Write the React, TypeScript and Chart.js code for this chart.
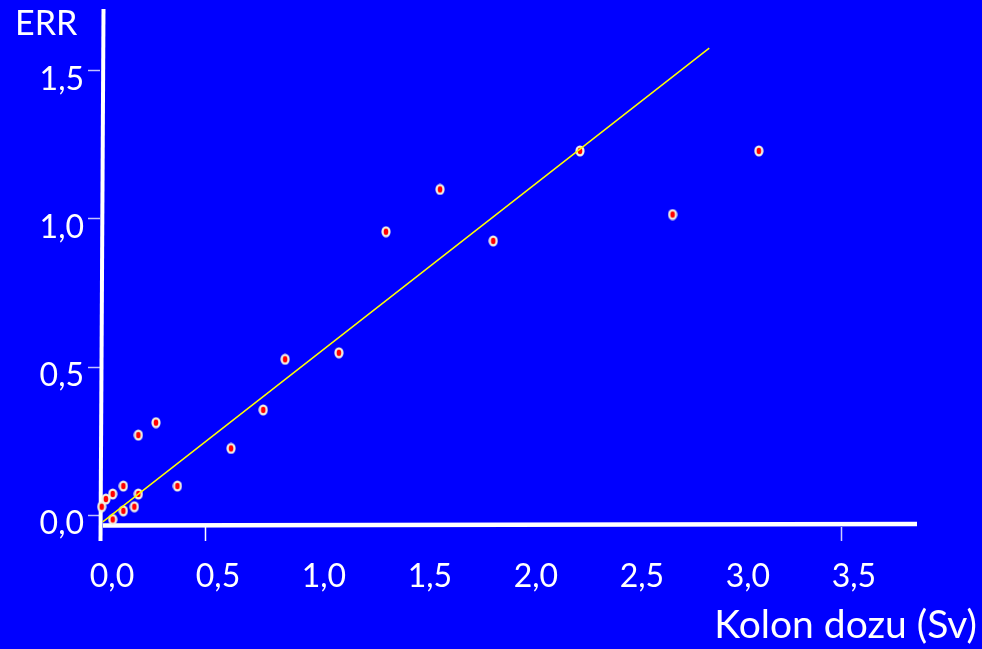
import { useEffect, useRef } from 'react';
import { Chart, registerables } from 'chart.js';

Chart.register(...registerables);

const doseValues = [0.008, 0.028, 0.06, 0.06, 0.11, 0.11, 0.162, 0.181, 0.181, 0.264, 0.365, 0.618, 0.77, 0.873, 1.127, 1.349, 1.604, 1.855, 2.264, 2.701, 3.108];
const errValues = [0.028, 0.054, 0.071, -0.015, 0.098, 0.014, 0.028, 0.071, 0.27, 0.312, 0.098, 0.225, 0.355, 0.526, 0.548, 0.957, 1.1, 0.926, 1.23, 1.015, 1.23];
const fitDose = [0.013, 2.874];
const fitErr = [-0.023, 1.577];
const xTickValues = [0, 0.5, 1, 1.5, 2, 2.5, 3, 3.5];
const xTickLabels = ['0,0', '0,5', '1,0', '1,5', '2,0', '2,5', '3,0', '3,5'];
const yTickValues = [0, 0.5, 1, 1.5];
const yTickLabels = ['0,0', '0,5', '1,0', '1,5'];
const xTickMarkColors = ['#000000', '#ffffff', 'rgba(0,0,0,0)', 'rgba(0,0,0,0)', 'rgba(0,0,0,0)', 'rgba(0,0,0,0)', 'rgba(0,0,0,0)', 'rgba(205,205,255,1)'];

const FONT = 'Lato, "Open Sans", sans-serif';

function makePointImage(): HTMLCanvasElement {
  const c = document.createElement('canvas');
  c.width = 10;
  c.height = 12;
  const g = c.getContext('2d')!;
  g.fillStyle = '#F2F2E4';
  g.beginPath();
  g.ellipse(5, 6, 4.6, 5.6, 0, 0, Math.PI * 2);
  g.fill();
  g.fillStyle = '#FF0000';
  g.beginPath();
  g.ellipse(5, 6, 2.3, 3.2, 0, 0, Math.PI * 2);
  g.fill();
  return c;
}

const axisLinesPlugin = {
  id: 'axisLines',
  beforeDatasetsDraw(chart: any) {
    const { ctx, chartArea } = chart;
    const { left, right, top, bottom } = chartArea;
    ctx.save();
    ctx.strokeStyle = '#ffffff';
    ctx.lineCap = 'butt';
    ctx.lineWidth = 4;
    ctx.beginPath();
    ctx.moveTo(left + 3.5, top - 1);
    ctx.lineTo(left + 0.5, bottom + 14);
    ctx.stroke();
    ctx.lineWidth = 4.5;
    ctx.beginPath();
    ctx.moveTo(left + 3, bottom - 1.5);
    ctx.lineTo(right, bottom - 3);
    ctx.stroke();
    ctx.restore();
  },
  afterDraw(chart: any) {
    const { ctx } = chart;
    ctx.save();
    ctx.fillStyle = '#ffffff';
    ctx.textBaseline = 'alphabetic';
    ctx.font = `34px ${FONT}`;
    ctx.textAlign = 'left';
    ctx.fillText('ERR', 15, 35);
    ctx.font = `39px ${FONT}`;
    ctx.textAlign = 'right';
    ctx.fillText('Kolon dozu (Sv)', 977, 638);
    ctx.restore();
  },
};

export default function App() {
  const ref = useRef<HTMLCanvasElement>(null);

  useEffect(() => {
    if (!ref.current) return;
    const pointImg = makePointImage();
    const chart = new Chart(ref.current, {
      type: 'scatter',
      data: {
        datasets: [
          {
            type: 'line',
            label: 'fit',
            data: fitDose.map((x, i) => ({ x, y: fitErr[i] })),
            borderColor: '#FFFF00',
            borderWidth: 1.5,
            pointRadius: 0,
            fill: false,
            order: 0,
            clip: false as any,
          },
          {
            type: 'scatter',
            label: 'ERR',
            data: doseValues.map((x, i) => ({ x, y: errValues[i] })),
            pointStyle: pointImg as any,
            pointRadius: 5,
            order: 1,
            clip: false as any,
          },
        ],
      },
      options: {
        animation: false,
        responsive: false,
        events: [],
        layout: { padding: { top: 10, right: 65, left: 0, bottom: 0 } },
        plugins: {
          legend: { display: false },
          tooltip: { enabled: false },
        },
        scales: {
          x: {
            type: 'linear',
            min: 0,
            max: 3.854,
            afterBuildTicks: (s: any) => {
              s.ticks = xTickValues.map((v) => ({ value: v }));
            },
            afterFit: (s: any) => {
              s.height = 122;
              s.paddingLeft = 0;
              s.paddingRight = 0;
            },
            ticks: {
              callback: (_v: any, i: number) => xTickLabels[i],
              color: '#ffffff',
              font: { family: FONT, size: 32 },
              labelOffset: 12,
              padding: 16,
              maxRotation: 0,
              autoSkip: false,
            },
            grid: {
              drawOnChartArea: false,
              drawTicks: true,
              tickLength: 14,
              tickWidth: 1.5,
              tickColor: (c: any) => xTickMarkColors[c.index] ?? 'rgba(0,0,0,0)',
            },
            border: { display: false },
          },
          y: {
            type: 'linear',
            min: -0.0405,
            max: 1.706,
            afterBuildTicks: (s: any) => {
              s.ticks = yTickValues.map((v) => ({ value: v }));
            },
            afterFit: (s: any) => {
              s.width = 100;
              s.paddingTop = 0;
              s.paddingBottom = 0;
            },
            ticks: {
              callback: (_v: any, i: number) => yTickLabels[i],
              color: '#ffffff',
              font: { family: FONT, size: 32 },
              labelOffset: 9,
              padding: 4,
              autoSkip: false,
            },
            grid: {
              drawOnChartArea: false,
              drawTicks: true,
              tickLength: 12,
              tickWidth: 1.5,
              tickColor: 'rgba(215,215,255,0.9)',
            },
            border: { display: false },
          },
        },
      },
      plugins: [axisLinesPlugin],
    });
    return () => chart.destroy();
  }, []);

  return (
    <div style={{ position: 'fixed', left: 0, top: 0, width: 982, height: 649, background: '#0000FF' }}>
      <canvas ref={ref} width={982} height={649} style={{ display: 'block' }} />
    </div>
  );
}
